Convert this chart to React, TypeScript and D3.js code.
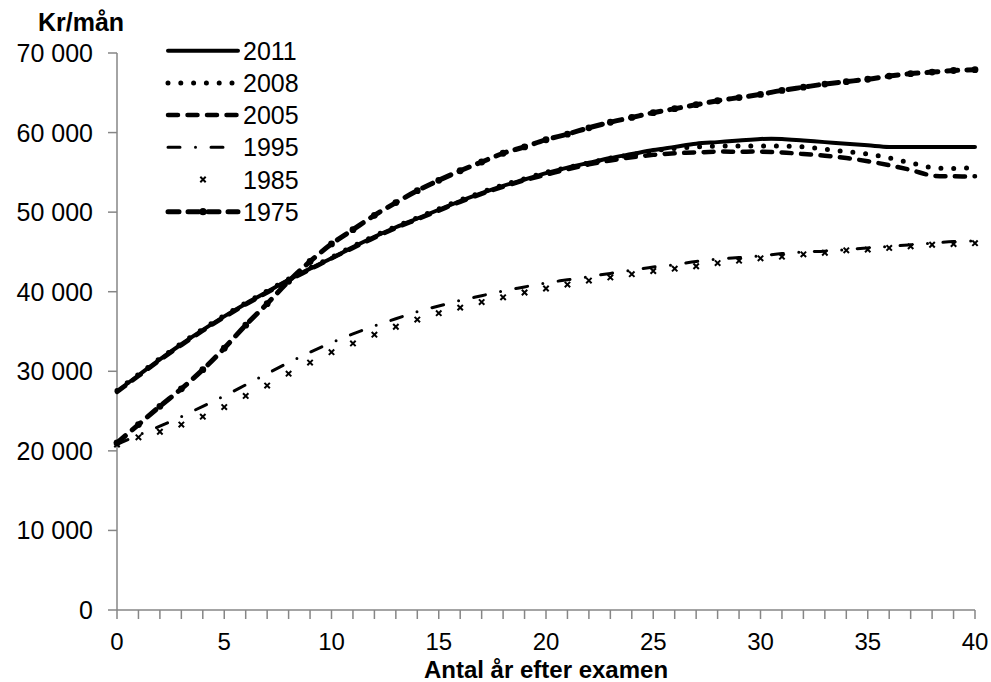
import React, { useEffect, useRef } from "react";
import * as d3 from "d3";

// år efter examen
const years = [0, 1, 2, 3, 4, 5, 6, 7, 8, 9, 10, 11, 12, 13, 14, 15, 16, 17, 18, 19, 20,
  21, 22, 23, 24, 25, 26, 27, 28, 29, 30, 31, 32, 33, 34, 35, 36, 37, 38, 39, 40];

const s2011 = [27500, 29500, 31500, 33400, 35200, 36900, 38500, 40000, 41500, 42900, 44200,
  45600, 46900, 48100, 49200, 50300, 51400, 52400, 53300, 54100, 54900,
  55600, 56200, 56800, 57300, 57800, 58200, 58600, 58800, 59000, 59200,
  59200, 59000, 58800, 58600, 58400, 58200, 58200, 58200, 58200, 58200];

const s2008 = [27600, 29600, 31600, 33500, 35300, 37000, 38600, 40100, 41600, 43000, 44300,
  45700, 47000, 48200, 49300, 50400, 51500, 52500, 53400, 54200, 55000,
  55600, 56200, 56800, 57200, 57700, 58000, 58200, 58300, 58300, 58300,
  58300, 58200, 57900, 57600, 57300, 56800, 56200, 55600, 55500, 55600];

const s2005 = [27400, 29400, 31400, 33300, 35100, 36800, 38400, 39900, 41400, 42800, 44200,
  45500, 46800, 48000, 49100, 50200, 51300, 52300, 53200, 54000, 54700,
  55400, 56000, 56500, 56900, 57200, 57400, 57500, 57600, 57600, 57600,
  57500, 57300, 57100, 56800, 56400, 55900, 55300, 54600, 54500, 54500];

const s1995 = [20800, 22000, 23100, 24300, 25600, 26900, 28300, 29700, 31100, 32400, 33600,
  34700, 35700, 36600, 37500, 38200, 38900, 39500, 40100, 40600, 41100,
  41500, 41900, 42300, 42700, 43100, 43400, 43800, 44100, 44300, 44500,
  44800, 45000, 45100, 45300, 45500, 45700, 45900, 46100, 46300, 46400];

const s1985 = [20800, 21700, 22400, 23300, 24300, 25500, 26900, 28200, 29700, 31100, 32400,
  33500, 34600, 35600, 36500, 37300, 38000, 38700, 39300, 39900, 40400,
  40900, 41400, 41800, 42200, 42600, 42900, 43200, 43600, 43900, 44200,
  44400, 44700, 44900, 45200, 45300, 45500, 45700, 45900, 46000, 46100];

const s1975 = [21000, 23300, 25600, 27800, 30200, 32900, 35800, 38500, 41300, 43800, 46000,
  47800, 49600, 51200, 52700, 54000, 55200, 56300, 57400, 58200, 59100,
  59800, 60600, 61300, 61900, 62500, 63000, 63500, 64000, 64400, 64800,
  65300, 65700, 66100, 66400, 66700, 67100, 67400, 67600, 67800, 67900];

const yTicks = [0, 10000, 20000, 30000, 40000, 50000, 60000, 70000];
const xTickLabels = [0, 5, 10, 15, 20, 25, 30, 35, 40];

const series = [
  { name: "2011", values: s2011, kind: "solid" },
  { name: "2008", values: s2008, kind: "dot" },
  { name: "2005", values: s2005, kind: "dash" },
  { name: "1995", values: s1995, kind: "dashdot" },
  { name: "1985", values: s1985, kind: "cross" },
  { name: "1975", values: s1975, kind: "dashmarker" },
];

const W = 991;
const H = 682;
const FONT = "'Liberation Sans', Arial, sans-serif";
const AXIS = "#868686";

function styleLine(sel, kind) {
  sel.attr("fill", "none").attr("stroke", "#000").attr("stroke-linecap", "round").attr("stroke-linejoin", "round");
  if (kind === "solid") sel.attr("stroke-width", 4);
  if (kind === "dot") sel.attr("stroke-width", 5).attr("stroke-dasharray", "0 12.8");
  if (kind === "dash") sel.attr("stroke-width", 4.5).attr("stroke-dasharray", "10 9.5");
  if (kind === "dashdot") sel.attr("stroke-width", 3).attr("stroke-dasharray", "12 15.5 0 15.5");
  if (kind === "dashmarker") sel.attr("stroke-width", 5).attr("stroke-dasharray", "11 9");
}

const App = () => {
  const svgRef = useRef<SVGSVGElement | null>(null);

  useEffect(() => {
    const svg = d3.select(svgRef.current);
    svg.selectAll("*").remove();

    const x = d3.scaleLinear().domain([0, 40]).range([117, 975]);
    const y = d3.scaleLinear().domain([0, 70000]).range([610, 53]);

    // axes
    svg.append("line").attr("x1", x(0)).attr("x2", x(0)).attr("y1", y(0)).attr("y2", y(70000))
      .attr("stroke", AXIS).attr("stroke-width", 1.5);
    svg.append("line").attr("x1", x(0)).attr("x2", x(40)).attr("y1", y(0)).attr("y2", y(0))
      .attr("stroke", AXIS).attr("stroke-width", 1.5);

    svg.selectAll(".ytick").data(yTicks).enter().append("line")
      .attr("x1", x(0) - 9).attr("x2", x(0)).attr("y1", (d) => y(d)).attr("y2", (d) => y(d))
      .attr("stroke", AXIS).attr("stroke-width", 1.5);
    svg.selectAll(".ylab").data(yTicks).enter().append("text")
      .attr("x", 93).attr("y", (d) => y(d)).attr("dy", "0.36em")
      .attr("text-anchor", "end").style("font-family", FONT).style("font-size", "25px")
      .text((d) => d3.format(",")(d).replace(/,/g, " "));

    svg.selectAll(".xtick").data(years).enter().append("line")
      .attr("x1", (d) => x(d)).attr("x2", (d) => x(d)).attr("y1", y(0)).attr("y2", y(0) + 9)
      .attr("stroke", AXIS).attr("stroke-width", 1.5);
    svg.selectAll(".xlab").data(xTickLabels).enter().append("text")
      .attr("x", (d) => x(d)).attr("y", 650)
      .attr("text-anchor", "middle").style("font-family", FONT).style("font-size", "24px")
      .text((d) => d);

    svg.append("text").attr("x", 38).attr("y", 31).style("font-family", FONT)
      .style("font-size", "25px").style("font-weight", "bold").text("Kr/mån");
    svg.append("text").attr("x", 546).attr("y", 678).attr("text-anchor", "middle")
      .style("font-family", FONT).style("font-size", "24px").style("font-weight", "bold")
      .text("Antal år efter examen");

    const line = d3.line<number>()
      .x((_, i) => x(years[i]))
      .y((d) => y(d))
      .curve(d3.curveCatmullRom.alpha(0.5));

    const cross = (g, cx, cy, r) => {
      g.append("path")
        .attr("d", `M${cx - r},${cy - r}L${cx + r},${cy + r}M${cx - r},${cy + r}L${cx + r},${cy - r}`)
        .attr("stroke", "#000").attr("stroke-width", 2).attr("fill", "none");
    };

    // draw back to front
    [...series].reverse().forEach((s) => {
      const g = svg.append("g");
      if (s.kind === "cross") {
        s.values.forEach((v, i) => cross(g, x(years[i]), y(v), 2.7));
        return;
      }
      g.append("path").attr("d", line(s.values)).call(styleLine, s.kind);
      if (s.kind === "dashmarker") {
        g.selectAll("circle").data(s.values).enter().append("circle")
          .attr("cx", (_, i) => x(years[i])).attr("cy", (d) => y(d)).attr("r", 3.4).attr("fill", "#000");
      }
    });

    // legend
    const lg = svg.append("g");
    series.forEach((s, i) => {
      const ly = 50.7 + i * 32.2;
      if (s.kind === "cross") {
        cross(lg, 203, ly, 2.7);
      } else {
        lg.append("path").attr("d", `M168,${ly}H238`).call(styleLine, s.kind);
        if (s.kind === "dashmarker") lg.append("circle").attr("cx", 203).attr("cy", ly).attr("r", 3.6).attr("fill", "#000");
      }
      lg.append("text").attr("x", 243).attr("y", ly).attr("dy", "0.36em")
        .style("font-family", FONT).style("font-size", "25px").text(s.name);
    });
  }, []);

  return (
    <svg ref={svgRef} width={W} height={H}
      style={{ position: "absolute", left: 0, top: 0, background: "#fff" }} />
  );
};

export default App;
